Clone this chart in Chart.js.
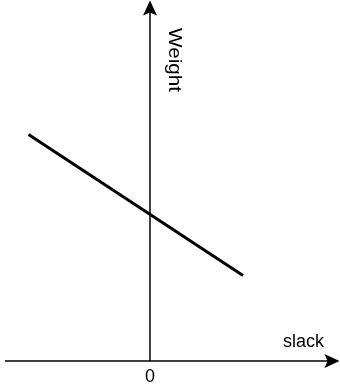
<!DOCTYPE html>
<html>
<head>
<meta charset="utf-8">
<script src="https://cdn.jsdelivr.net/npm/chart.js@4.4.1/dist/chart.umd.min.js"></script>
<style>
  html, body { margin: 0; padding: 0; background: #fff; }
  #wrap { width: 340px; height: 389px; position: relative; }
</style>
</head>
<body>
<div id="wrap"><canvas id="weight-chart"></canvas></div>
<script>
const slack = [-4.05, 3.1];
const weight = [7.55, 2.85];
const xTickValues = [0];
const xTitle = "slack";
const yTitle = "Weight";

const FONT = "'Liberation Sans', Arial, sans-serif";

function arrowHead(ctx, tipX, tipY, angle) {
  // classic arrow with a slightly notched back, pointing along angle
  ctx.save();
  ctx.translate(tipX, tipY);
  ctx.rotate(angle);
  ctx.beginPath();
  ctx.moveTo(0, 0);
  ctx.lineTo(-15, -7);
  ctx.lineTo(-12, 0);
  ctx.lineTo(-15, 7);
  ctx.closePath();
  ctx.fill();
  ctx.restore();
}

// axes, arrows and labels sit under the line
const arrowAxes = {
  id: "arrowAxes",
  beforeDatasetsDraw(chart) {
    const { ctx, scales: { x, y }, width } = chart;
    const x0 = x.getPixelForValue(0);
    const y0 = y.getPixelForValue(0);
    ctx.save();
    ctx.strokeStyle = "#000";
    ctx.fillStyle = "#000";
    ctx.lineWidth = 1.5;

    ctx.beginPath();
    ctx.moveTo(5, y0);
    ctx.lineTo(width - 6, y0);
    ctx.moveTo(x0, y0);
    ctx.lineTo(x0, 6);
    ctx.stroke();
    arrowHead(ctx, width - 0.5, y0, 0);
    arrowHead(ctx, x0, 0.5, -Math.PI / 2);

    ctx.font = "18px " + FONT;
    ctx.textAlign = "center";
    ctx.textBaseline = "middle";
    xTickValues.forEach(v => ctx.fillText(String(v), x.getPixelForValue(v), y0 + 16));

    ctx.textAlign = "left";
    ctx.textBaseline = "alphabetic";
    ctx.fillText(xTitle, width - 57, y0 - 14);

    // vertical title reads top to bottom, a little stretched along its length
    ctx.translate(x0 + 24, 60);
    ctx.rotate(Math.PI / 2);
    ctx.scale(1.15, 1);
    ctx.textAlign = "center";
    ctx.textBaseline = "middle";
    ctx.fillText(yTitle, 0, 0);
    ctx.restore();
  },
};

new Chart(document.getElementById("weight-chart"), {
  type: "line",
  data: {
    datasets: [{
      data: slack.map((s, i) => ({ x: s, y: weight[i] })),
      borderColor: "#000",
      borderWidth: 3,
      pointRadius: 0,
      fill: false,
      tension: 0,
    }],
  },
  options: {
    responsive: true,
    maintainAspectRatio: false,
    animation: false,
    layout: { padding: 0 },
    plugins: { legend: { display: false }, tooltip: { enabled: false } },
    scales: {
      x: { type: "linear", display: false, min: -5, max: 6.3333 },
      y: { type: "linear", display: false, min: -0.9333, max: 12.0333 },
    },
  },
  plugins: [arrowAxes],
});
</script>
</body>
</html>
